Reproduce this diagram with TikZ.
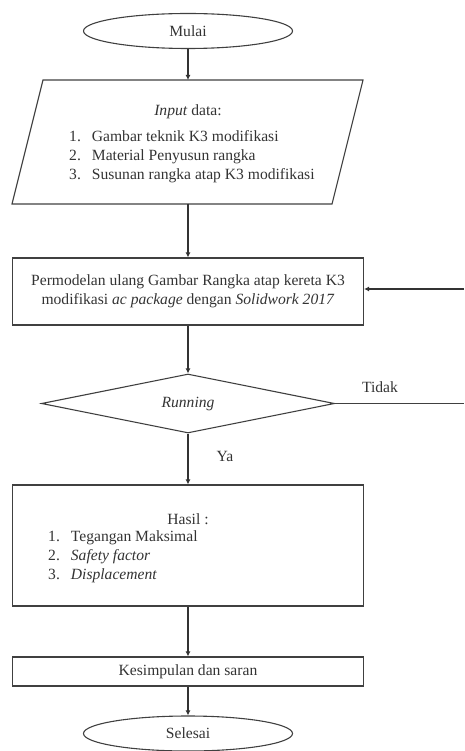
\documentclass[tikz,border=0pt]{standalone}
\usepackage{fontspec}
\setmainfont{Liberation Serif}
\usetikzlibrary{shapes.geometric,arrows.meta}
\begin{document}
\begin{tikzpicture}[x=1pt,y=1pt,
  line/.style={draw=black!75, line width=1.1pt},
  arr/.style={draw=black!80, line width=1.3pt, -{Latex[length=5pt,width=5pt]}},
  txt/.style={font=\fontsize{15.6}{19}\selectfont, text=black!80},
  term/.style={ellipse, line, minimum width=209pt, minimum height=35pt, inner sep=0pt, txt},
  proc/.style={rectangle, line, minimum width=351pt, inner sep=0pt, txt, align=center},
  decide/.style={diamond, line, minimum width=293pt, minimum height=59pt, aspect=5, inner sep=0pt, txt},
  lbl/.style={txt, inner sep=0pt}]
\useasboundingbox (0,0) rectangle (464,-751);

% start
\node[term] (mulai) at (188,-31) {Mulai};

% input parallelogram
\coordinate (ptl) at (43,-80);
\coordinate (ptr) at (363,-80);
\coordinate (pbr) at (332,-204);
\coordinate (pbl) at (12,-204);
\draw[line] (ptl) -- (ptr) -- (pbr) -- (pbl) -- cycle;
\coordinate (intop) at (188,-80);
\coordinate (inbot) at (188,-204);
\node[lbl] (intitle) at (188,-112) {\textit{Input} data:};
\node[lbl, anchor=base west] (inlist) at (69,-142)
  {\begin{tabular}[t]{@{}l@{\hspace{11pt}}l@{}}
   1. & Gambar teknik K3 modifikasi\\
   2. & Material Penyusun rangka\\
   3. & Susunan rangka atap K3 modifikasi
   \end{tabular}};

% modelling box
\node[proc, minimum height=67pt] (model) at (188,-291.5)
  {Permodelan ulang Gambar Rangka atap kereta K3\\
   modifikasi \textit{ac package} dengan \textit{Solidwork 2017}};

% decision
\node[decide] (run) at (188,-403.5) {\textit{Running}};

% results
\node[proc, minimum height=121pt] (hasil) at (188,-545.5) {};
\node[lbl] (hasiltitle) at (188,-519) {Hasil :};
\node[lbl, anchor=base west] (hasillist) at (48,-541)
  {\begin{tabular}[t]{@{}l@{\hspace{11pt}}l@{}}
   1. & Tegangan Maksimal\\
   2. & \textit{Safety factor}\\
   3. & \textit{Displacement}
   \end{tabular}};

% conclusion
\node[proc, minimum height=29pt] (kesimpulan) at (188,-671.5) {Kesimpulan dan saran};

% end
\node[term] (selesai) at (188,-733.5) {Selesai};

% connectors
\draw[arr] (mulai) -- (intop);
\draw[arr] (inbot) -- (model);
\draw[arr] (model) -- (run);
\draw[arr] (run) -- node[lbl, right=28pt, pos=0.45] (ya) {Ya} (hasil);
\draw[arr] (hasil) -- (kesimpulan);
\draw[arr] (kesimpulan) -- (selesai);

% feedback (vertical part lies outside the frame)
\coordinate (fb1) at (464,-403.5);
\coordinate (fb2) at (464,-289);
\draw[line] (run.east) -- (fb1);
\draw[arr] (fb2) -- (model.east |- fb2);
\node[lbl] (tidak) at (380,-387) {Tidak};
\end{tikzpicture}
\end{document}
